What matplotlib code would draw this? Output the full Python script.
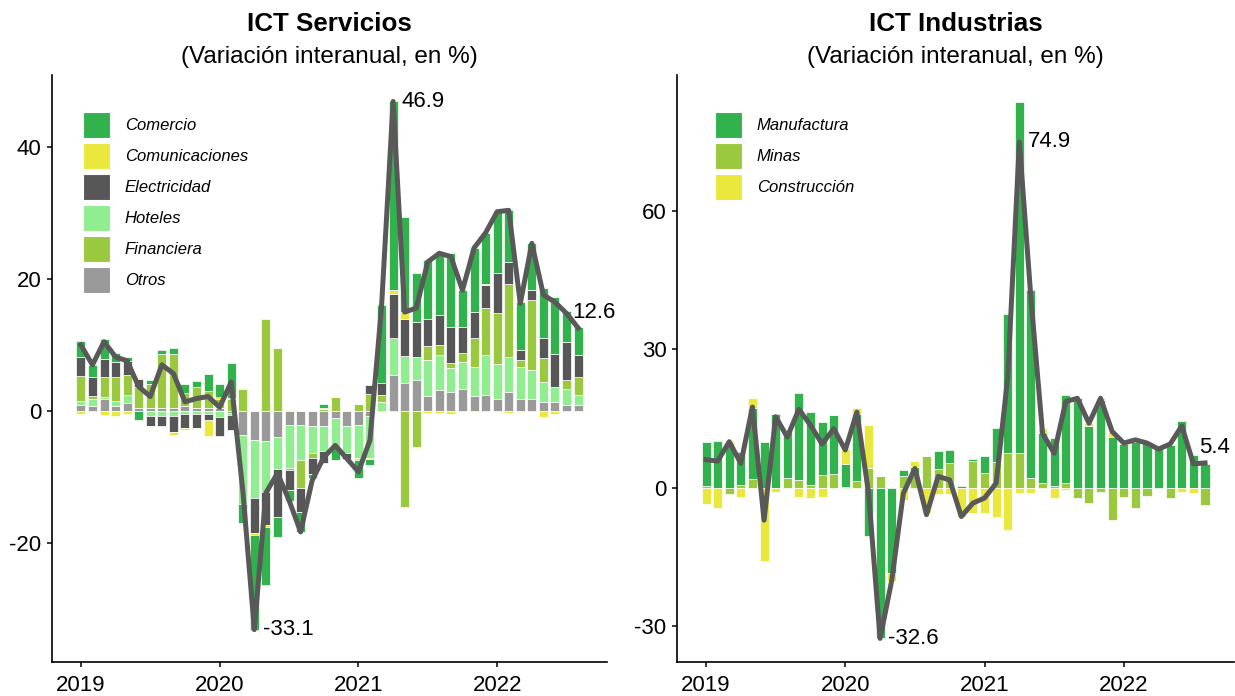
import numpy as np
import matplotlib
matplotlib.use("Agg")
import matplotlib.pyplot as plt
from matplotlib.patches import Patch

plt.rcParams['font.family'] = ['Liberation Sans', 'DejaVu Sans']
plt.rcParams['axes.unicode_minus'] = False

# meses ene-2019 .. ago-2022
meses = np.arange(44)
anios = ["2019", "2020", "2021", "2022"]
pos_anios = [0, 12, 24, 36]

# ICT Servicios: incidencias por sector
comercio = [2.4, 1.8, 3.0, 1.3, 0.6, -1.4, 0.6, 0.6, 0.8, 1.3, 0.9, 2.5, 1.9, 5.3,
            -2.9, -14.35, -8.8, -3.0, -1.6, -3.0, -0.6, 0.5, -1.8, 0, -2.8, -0.9,
            11.8, 28.6, 14.4, 7.4, 8.9, 9.6, 11.2, 5.6, 9.7, 7.7, 9.3, 7.9, 7.3, 7.1, 7.6, 8.6, 4.6, 4.3]
comunicaciones = [-0.4, 0, -0.6, -0.7, -0.5, 0.1, -0.2, 0, -0.4, -0.3, -0.2, -2.5, 0.3, 0.2,
                  0.2, -0.25, -0.3, 0.1, 0.1, 0, 0, 0.2, 0, 0.1, -0.3, -0.2,
                  -0.2, 0.6, 1.0, -0.2, -0.3, -0.3, -0.4, 0, -0.1, 0.2, -0.2, -0.3, -0.2, 0, -0.9, -0.5, 0, -0.2]
electricidad = [2.9, 2.9, 2.8, 2.4, 2.2, 1.3, -1.4, -1.5, -2.5, -2.0, -2.1, -0.9, -2.8, -2.3,
                0, -5.3, -5.0, -7.3, -3.1, -3.7, -2.4, -1.8, 0, -0.9, 0, 1.3,
                1.7, 6.7, 5.6, 5.3, 4.2, 4.5, 5.4, 3.9, 4.0, 3.5, 6.1, 3.3, 1.5, 1.5, 3.0, 5.0, 5.8, 3.3]
hoteles = [0.6, 1.1, 0.3, 0.7, 1.3, 0, -0.8, -0.7, -0.7, -0.5, -0.4, -0.4, -0.9, -0.3,
           -10.5, -8.8, -7.7, -4.8, -6.5, -5.3, -4.0, -3.8, -4.5, -4.1, -5.0, -6.3,
           1.3, 5.5, 4.2, 3.5, 5.4, 5.3, 3.6, 4.2, 4.4, 6.1, 5.3, 5.3, 4.8, 4.3, 3.0, 2.3, 2.5, 1.5]
financiera = [3.8, 0.5, 3.0, 3.6, 2.9, 3.2, 3.6, 8.3, 8.2, 2.0, 3.2, 2.6, 1.5, 1.8,
              3.3, 0, 13.9, 9.5, -0.3, -4.2, -0.8, 0.3, 2.2, 0, 1.0, 2.6,
              1.2, 0, -14.5, -5.4, 2.1, 1.5, 0.8, 1.3, 4.3, 7.1, 7.6, 11.1, 1.0, 10.6, 3.6, 0, 1.3, 2.8]
otros = [0.9, 0.7, 1.8, 0.8, 1.2, 0.4, 0.5, 0.4, 0.5, 0.8, 0.5, 0.5, 0.4, -0.3,
         -3.6, -4.4, -4.5, -3.9, -2.1, -2.1, -2.3, -2.3, -1.1, -2.3, -2.1, -0.8,
         0, 5.5, 4.2, 4.7, 2.3, 3.2, 2.9, 3.3, 2.3, 2.4, 1.9, 2.9, 1.9, 1.9, 1.4, 1.4, 0.9, 0.9]
total_servicios = [10.0, 7.0, 10.5, 8.2, 7.6, 3.7, 2.2, 7.0, 5.7, 1.4, 1.9, 2.2, 0.6, 4.4,
                   -12.0, -33.1, -12.4, -9.4, -13.5, -18.3, -10.5, -7.0, -5.2, -7.2, -9.2, -4.4,
                   15.8, 46.9, 15.0, 15.6, 22.6, 23.9, 23.4, 18.3, 24.7, 27.0, 30.2, 30.4, 16.3, 25.4,
                   17.6, 16.5, 14.8, 12.6]

# ICT Industrias
manufactura = [9.6, 10.2, 9.7, 7.2, 15.3, 10.0, 16.0, 10.5, 18.9, 15.9, 11.5, 12.8, 5.1, 14.5,
               -10.5, -32.5, -18.4, 1.4, 2.0, 0, 4.0, 2.9, 0.3, 0.5, 3.6, 7.2,
               30.2, 76.1, 40.8, 10.8, 10.5, 19.1, 19.4, 13.3, 19.0, 11.1, 9.5, 10.0, 9.7, 8.6, 9.3, 14.4, 7.1, 5.2]
minas = [0.4, 0, -1.4, 0.6, 1.9, 0, 0, 2.1, 1.7, 0.6, 2.8, 3.0, 0.1, 1.4,
         4.3, 2.5, 0, 2.5, 2.5, 7.0, 4.0, 5.4, 0, 5.8, 3.2, 5.7,
         7.5, 7.5, 2.1, 1.0, 0.3, 1.0, -2.2, -3.3, -0.8, -6.9, -1.9, -4.4, -1.7, 0, -2.2, 0, 0, -3.7]
construccion = [-3.5, -4.4, 0.4, -1.9, 2.2, -15.9, -0.9, 0, -2.0, -2.2, -1.9, 0, 3.2, 1.5,
                9.4, 0, -1.8, -2.6, 1.3, -5.4, -1.4, -1.4, -6.2, -5.5, -5.4, -6.2,
                -9.1, -1.2, -1.2, 1.1, -2.2, -0.4, 0, 0.7, 0.5, 1.1, 0.3, 0, 0, 0, 0, -0.8, -1.2, 0]
total_industrias = [6.1, 5.8, 10.0, 5.3, 17.5, -7.0, 15.4, 11.0, 17.0, 13.6, 9.5, 12.8, 8.2, 16.4,
                    -1.0, -32.6, -20.1, -1.2, 4.2, -5.8, 2.5, 1.7, -6.2, -3.3, -2.2, 1.0,
                    24.0, 74.9, 41.0, 11.8, 7.5, 18.7, 19.4, 14.0, 19.4, 12.2, 9.7, 10.4, 9.7, 8.4,
                    9.5, 13.4, 5.2, 5.4]

verde = "#31B24D"
amarillo = "#EAE83C"
gris_osc = "#575757"
verde_claro = "#90EE90"
oliva = "#9AC83F"
gris = "#9A9A9A"
linea = "#595959"


def apilar(ax, capas, colores):
    pos = np.zeros(len(meses))
    neg = np.zeros(len(meses))
    for vals, col in zip(capas, colores):
        v = np.array(vals, dtype=float)
        base = np.where(v >= 0, pos, neg)
        ax.bar(meses, v, bottom=base, width=0.78, color=col, edgecolor="white", linewidth=0.5, zorder=2)
        pos = pos + np.where(v > 0, v, 0)
        neg = neg + np.where(v < 0, v, 0)


def estilo(ax, ylim, yticks):
    ax.set_xlim(-2.5, 45.5)
    ax.set_ylim(*ylim)
    ax.set_yticks(yticks)
    ax.set_xticks(pos_anios)
    ax.set_xticklabels(anios)
    for s in ["top", "right"]:
        ax.spines[s].set_visible(False)
    for s in ["left", "bottom"]:
        ax.spines[s].set_linewidth(1.2)
    ax.tick_params(length=3.6, width=1.1, labelsize=16, pad=4, colors="black")
    ax.tick_params(axis="x", pad=6)


def etiquetas(ax, total):
    t = np.array(total)
    imax, imin = int(np.argmax(t)), int(np.argmin(t))
    for i in [imax, imin]:
        ax.annotate(f"{t[i]:.1f}", (meses[i], t[i]), xytext=(6, 0), textcoords="offset points",
                    ha="left", va="center", fontsize=16, zorder=5)
    ax.annotate(f"{t[-1]:.1f}", (meses[-1], t[-1]), xytext=(-4, 11), textcoords="offset points",
                ha="left", va="center", fontsize=16, zorder=5)


fig = plt.figure(figsize=(12.35, 6.96), dpi=100)
ax1 = fig.add_axes([0.0421, 0.0489, 0.4494, 0.8433])
ax2 = fig.add_axes([0.5482, 0.0489, 0.4510, 0.8433])

# orden de apilado desde el cero
apilar(ax1, [otros, hoteles, financiera, electricidad, comunicaciones, comercio],
       [gris, verde_claro, oliva, gris_osc, amarillo, verde])
ax1.plot(meses, total_servicios, color=linea, lw=3.6, zorder=4)
estilo(ax1, (-38.0, 50.9), [-20, 0, 20, 40])
etiquetas(ax1, total_servicios)

apilar(ax2, [minas, manufactura, construccion], [oliva, verde, amarillo])
ax2.plot(meses, total_industrias, color=linea, lw=3.6, zorder=4)
estilo(ax2, (-37.7, 89.4), [-30, 0, 30, 60])
etiquetas(ax2, total_industrias)

nombres1 = ["Comercio", "Comunicaciones", "Electricidad", "Hoteles", "Financiera", "Otros"]
colores1 = [verde, amarillo, gris_osc, verde_claro, oliva, gris]
nombres2 = ["Manufactura", "Minas", "Construcción"]
colores2 = [verde, oliva, amarillo]

for ax, nombres, colores, bx in [(ax1, nombres1, colores1, 0.0553), (ax2, nombres2, colores2, 0.068)]:
    handles = [Patch(facecolor=c, edgecolor="white", linewidth=0.8) for c in colores]
    ax.legend(handles, nombres, loc="upper left", bbox_to_anchor=(bx, 0.937), frameon=False,
              borderaxespad=0, borderpad=0, handlelength=1.62, handleheight=2.05,
              labelspacing=0.28, handletextpad=0.9, prop={"size": 12, "style": "italic"})

fig.text(0.2668, 0.9555, "ICT Servicios", ha="center", va="baseline", fontsize=18.7, fontweight="bold")
fig.text(0.2668, 0.9100, "(Variación interanual, en %)", ha="center", va="baseline", fontsize=17.5)
fig.text(0.7737, 0.9555, "ICT Industrias", ha="center", va="baseline", fontsize=18.7, fontweight="bold")
fig.text(0.7737, 0.9100, "(Variación interanual, en %)", ha="center", va="baseline", fontsize=17.5)

fig.savefig("out.png", dpi=100)
plt.close(fig)
